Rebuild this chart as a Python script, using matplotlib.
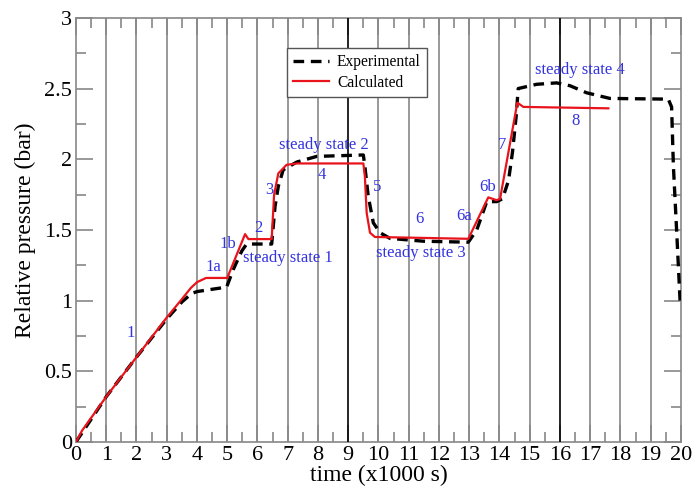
import numpy as np
import matplotlib.pyplot as plt
from matplotlib.ticker import MultipleLocator

# time in x1000 s, pressure in bar
calc_t = [0, 0.2, 1, 2, 3, 3.5, 3.8, 4.0, 4.3, 5.0, 5.59, 5.70, 6.47, 6.55, 6.69,
          6.96, 7.3, 9.50, 9.55, 9.61, 9.72, 9.88, 12.97, 13.63, 13.91, 14.02,
          14.59, 14.79, 17.6]
calc_p = [0, 0.08, 0.32, 0.60, 0.88, 1.01, 1.09, 1.13, 1.16, 1.16, 1.47, 1.435,
          1.435, 1.75, 1.90, 1.96, 1.97, 1.97, 1.88, 1.62, 1.48, 1.45, 1.437,
          1.73, 1.71, 1.72, 2.40, 2.37, 2.36]

exp_t = [0, 1, 2, 3, 3.5, 3.82, 4.01, 4.5, 4.98, 5.2, 5.48, 5.64, 6.47, 6.58,
         6.69, 6.85, 7.3, 7.96, 9.50, 9.55, 9.66, 9.83, 10.05, 10.38, 11.48,
         12.97, 13.25, 13.58, 13.91, 14.1, 14.3, 14.43, 14.55, 14.62, 15.23,
         15.89, 16.33, 16.88, 17.65, 19.58, 19.69, 19.75, 19.86, 19.97]
exp_p = [0, 0.32, 0.60, 0.87, 0.99, 1.05, 1.064, 1.08, 1.095, 1.22, 1.35, 1.40,
         1.40, 1.665, 1.81, 1.925, 1.98, 2.02, 2.03, 1.95, 1.74, 1.55, 1.48,
         1.44, 1.42, 1.413, 1.50, 1.70, 1.70, 1.72, 1.85, 2.05, 2.30, 2.50,
         2.53, 2.54, 2.52, 2.47, 2.43, 2.425, 2.37, 1.95, 1.48, 1.0]

labels = ["1", "1a", "1b", "2", "steady state 1", "3", "steady state 2", "4",
          "5", "6", "6a", "steady state 3", "6b", "7", "steady state 4", "8"]
label_t = [1.82, 4.53, 5.02, 6.02, 7.0, 6.38, 8.2, 8.13, 9.95, 11.37, 12.83,
           11.4, 13.62, 14.1, 16.66, 16.5]
label_p = [0.77, 1.24, 1.40, 1.51, 1.30, 1.78, 2.10, 1.89, 1.80, 1.58, 1.60,
           1.34, 1.80, 2.10, 2.63, 2.27]

black_grid = [9, 16]

plt.rcParams['font.family'] = ['Liberation Serif', 'DejaVu Serif']

fig = plt.figure(figsize=(6.97, 4.96), dpi=100)
ax = fig.add_axes([0.109, 0.109, 0.868, 0.855])

for t in range(1, 20):
    if t in black_grid:
        ax.axvline(t, color='black', lw=1.2, zorder=3)
    else:
        ax.axvline(t, color='#888888', lw=1.2, zorder=0)

ax.plot(exp_t, exp_p, color='black', lw=2.4, ls=(0, (3.2, 2.0)),
        label='Experimental', zorder=5)
ax.plot(calc_t, calc_p, color='#e8131b', lw=1.6, label='Calculated', zorder=6)

for s, t, p in zip(labels, label_t, label_p):
    ax.text(t, p, s, color='#3333e0', fontsize=12, ha='center', va='center',
            zorder=7)

ax.set_xlim(0, 20)
ax.set_ylim(0, 3)
ax.xaxis.set_major_locator(MultipleLocator(1))
ax.xaxis.set_minor_locator(MultipleLocator(0.5))
ax.yaxis.set_minor_locator(MultipleLocator(0.25))
ax.set_yticks(np.arange(0, 3.01, 0.5))
ax.set_yticklabels(['0', '0.5', '1', '1.5', '2', '2.5', '3'])
ax.tick_params(which='both', direction='in', top=True, right=True, color='#888888',
               labelsize=16, pad=3)
ax.tick_params(which='major', length=12, width=1.2)
ax.tick_params(which='minor', length=7, width=1.2)
for sp in ax.spines.values():
    sp.set_color('#888888')
    sp.set_linewidth(1.2)

ax.set_xlabel('time (x1000 s)', fontsize=17, labelpad=0)
ax.set_ylabel('Relative pressure (bar)', fontsize=17, labelpad=6)

leg = ax.legend(loc='upper left', bbox_to_anchor=(0.349, 0.929), fontsize=11.2,
                fancybox=False, framealpha=1, edgecolor='#555555',
                handlelength=2.3, handletextpad=0.5, borderpad=0.4,
                labelspacing=0.3, borderaxespad=0)
leg.get_frame().set_linewidth(1.0)
leg.set_zorder(8)

plt.savefig("out.png")
plt.close()
